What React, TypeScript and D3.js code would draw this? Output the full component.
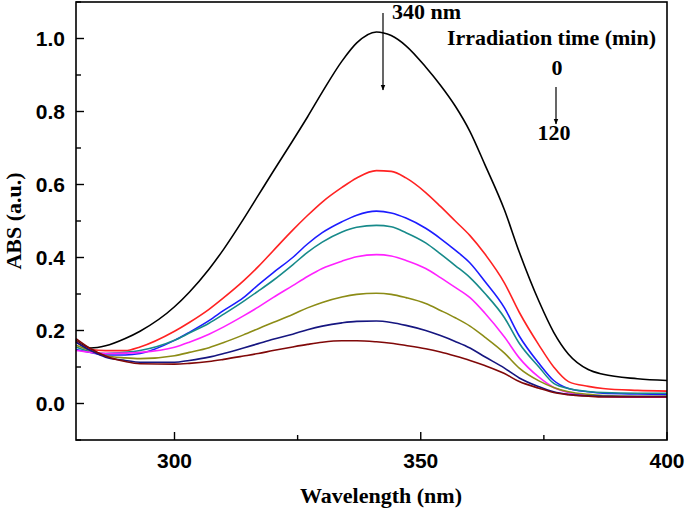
import React from 'react';
import * as d3 from 'd3';

if (typeof document !== 'undefined') document.body.style.margin = '0';

// wavelength grid (nm)
const wavelengths = [280, 283, 286, 290, 293, 300, 303, 307, 310, 314, 317, 320, 324, 327, 330, 334, 337, 341, 344, 347, 351, 354, 357, 360, 363, 367, 370, 374, 377, 380, 384, 387, 394, 400];

const abs0 = [0.173, 0.152, 0.158, 0.178, 0.198, 0.265, 0.305, 0.368, 0.423, 0.505, 0.57, 0.635, 0.72, 0.785, 0.853, 0.938, 0.988, 1.018, 1.008, 0.98, 0.922, 0.872, 0.815, 0.745, 0.655, 0.53, 0.415, 0.28, 0.195, 0.135, 0.093, 0.08, 0.068, 0.063];
const absRed = [0.17, 0.148, 0.145, 0.145, 0.155, 0.198, 0.222, 0.258, 0.29, 0.336, 0.375, 0.418, 0.475, 0.515, 0.552, 0.592, 0.618, 0.638, 0.636, 0.618, 0.578, 0.54, 0.5, 0.46, 0.41, 0.33, 0.25, 0.16, 0.1, 0.06, 0.047, 0.041, 0.036, 0.034];
const absBlue = [0.148, 0.14, 0.133, 0.133, 0.137, 0.173, 0.195, 0.227, 0.255, 0.29, 0.325, 0.358, 0.4, 0.437, 0.468, 0.498, 0.516, 0.527, 0.522, 0.508, 0.48, 0.452, 0.42, 0.385, 0.335, 0.262, 0.185, 0.11, 0.063, 0.041, 0.032, 0.028, 0.026, 0.025];
const absTeal = [0.155, 0.142, 0.137, 0.14, 0.145, 0.173, 0.193, 0.22, 0.245, 0.28, 0.308, 0.337, 0.38, 0.414, 0.442, 0.47, 0.483, 0.488, 0.484, 0.468, 0.44, 0.41, 0.378, 0.345, 0.302, 0.235, 0.165, 0.1, 0.055, 0.041, 0.033, 0.03, 0.028, 0.028];
const absMagenta = [0.145, 0.14, 0.137, 0.138, 0.14, 0.154, 0.168, 0.19, 0.21, 0.24, 0.264, 0.29, 0.323, 0.348, 0.37, 0.39, 0.402, 0.408, 0.404, 0.392, 0.37, 0.345, 0.318, 0.29, 0.248, 0.182, 0.125, 0.072, 0.044, 0.03, 0.022, 0.019, 0.017, 0.017];
const absOlive = [0.16, 0.145, 0.131, 0.125, 0.123, 0.131, 0.14, 0.153, 0.167, 0.188, 0.205, 0.222, 0.244, 0.262, 0.277, 0.292, 0.299, 0.302, 0.299, 0.29, 0.274, 0.255, 0.235, 0.212, 0.182, 0.138, 0.097, 0.062, 0.044, 0.032, 0.025, 0.022, 0.02, 0.02];
const absNavy = [0.168, 0.145, 0.127, 0.118, 0.113, 0.113, 0.118, 0.127, 0.137, 0.152, 0.164, 0.176, 0.19, 0.202, 0.212, 0.221, 0.225, 0.226, 0.222, 0.214, 0.2, 0.186, 0.17, 0.152, 0.128, 0.097, 0.07, 0.046, 0.032, 0.025, 0.021, 0.02, 0.019, 0.019];
const absMaroon = [0.178, 0.15, 0.13, 0.115, 0.109, 0.108, 0.11, 0.115, 0.121, 0.13, 0.137, 0.145, 0.155, 0.162, 0.168, 0.172, 0.172, 0.169, 0.165, 0.159, 0.15, 0.141, 0.13, 0.118, 0.104, 0.082, 0.06, 0.042, 0.03, 0.024, 0.02, 0.018, 0.018, 0.018];

const seriesList = [abs0, absRed, absBlue, absTeal, absMagenta, absOlive, absNavy, absMaroon];
const seriesColors = ['#000000', '#ff2222', '#1c1cff', '#178a8a', '#ff22ff', '#8c8c16', '#161680', '#800808'];

const xTicks = [300, 350, 400];
const xMinor = [325, 375];
const yTicks = [0, 0.2, 0.4, 0.6, 0.8, 1.0];
const yMinor = [-0.1, 0.1, 0.3, 0.5, 0.7, 0.9, 1.1];

const W = 685;
const H = 512;
const margin = { top: 2, right: 18, bottom: 72, left: 76 };
const serif = '"Liberation Serif", "Times New Roman", serif';
const sans = '"Liberation Sans", Arial, sans-serif';

export default function App() {
  const x = d3.scaleLinear().domain([280, 400]).range([margin.left, W - margin.right]);
  const y = d3.scaleLinear().domain([-0.1, 1.1]).range([H - margin.bottom, margin.top]);

  const line = d3.line<number>()
    .x((_, i) => x(wavelengths[i]))
    .y(d => y(d))
    .curve(d3.curveMonotoneX);

  const x0 = margin.left;
  const x1 = W - margin.right;
  const y0 = H - margin.bottom;
  const y1 = margin.top;

  return (
    <svg width={W} height={H} style={{ display: 'block' }}>
      <defs>
        <marker id="arr" viewBox="0 0 10 10" refX="9" refY="5" markerWidth="6" markerHeight="10" orient="auto" markerUnits="userSpaceOnUse">
          <path d="M0,1 L10,5 L0,9 z" fill="#000" />
        </marker>
      </defs>
      <rect x={0} y={0} width={W} height={H} fill="#fff" />

      {seriesList.map((s, i) => (
        <path key={i} d={line(s) || ''} fill="none" stroke={seriesColors[i]} strokeWidth={1.6} />
      ))}

      {/* frame */}
      <rect x={x0} y={y1} width={x1 - x0} height={y0 - y1} fill="none" stroke="#000" strokeWidth={1.6} />

      {/* y ticks */}
      {yTicks.map(t => (
        <g key={t}>
          <line x1={x0} x2={x0 + 8} y1={y(t)} y2={y(t)} stroke="#000" strokeWidth={1.4} />
          <text x={x0 - 11} y={y(t) + 7.5} textAnchor="end" fontFamily={sans} fontWeight="bold" fontSize={21}>{t.toFixed(1)}</text>
        </g>
      ))}
      {yMinor.map(t => (
        <line key={t} x1={x0} x2={x0 + 5} y1={y(t)} y2={y(t)} stroke="#000" strokeWidth={1.4} />
      ))}

      {/* x ticks */}
      {xTicks.map(t => (
        <g key={t}>
          <line x1={x(t)} x2={x(t)} y1={y0} y2={y0 - 8} stroke="#000" strokeWidth={1.4} />
          <text x={x(t)} y={y0 + 28} textAnchor="middle" fontFamily={sans} fontWeight="bold" fontSize={21}>{t}</text>
        </g>
      ))}
      {xMinor.map(t => (
        <line key={t} x1={x(t)} x2={x(t)} y1={y0} y2={y0 - 5} stroke="#000" strokeWidth={1.4} />
      ))}

      {/* axis titles */}
      <text x={381} y={503} textAnchor="middle" fontFamily={serif} fontWeight="bold" fontSize={22}>Wavelength (nm)</text>
      <text transform={`translate(21,${(y0 + y1) / 2}) rotate(-90)`} textAnchor="middle" fontFamily={serif} fontWeight="bold" fontSize={22}>ABS (a.u.)</text>

      {/* annotations */}
      <line x1={383} x2={383} y1={13} y2={90} stroke="#000" strokeWidth={1.2} markerEnd="url(#arr)" />
      <text x={392} y={19} fontFamily={serif} fontWeight="bold" fontSize={22}>340 nm</text>
      <text x={447} y={45} fontFamily={serif} fontWeight="bold" fontSize={22}>Irradiation time (min)</text>
      <text x={557} y={75} textAnchor="middle" fontFamily={serif} fontWeight="bold" fontSize={22}>0</text>
      <line x1={556} x2={556} y1={87} y2={124} stroke="#000" strokeWidth={1.2} markerEnd="url(#arr)" />
      <text x={554} y={140} textAnchor="middle" fontFamily={serif} fontWeight="bold" fontSize={22}>120</text>
    </svg>
  );
}
